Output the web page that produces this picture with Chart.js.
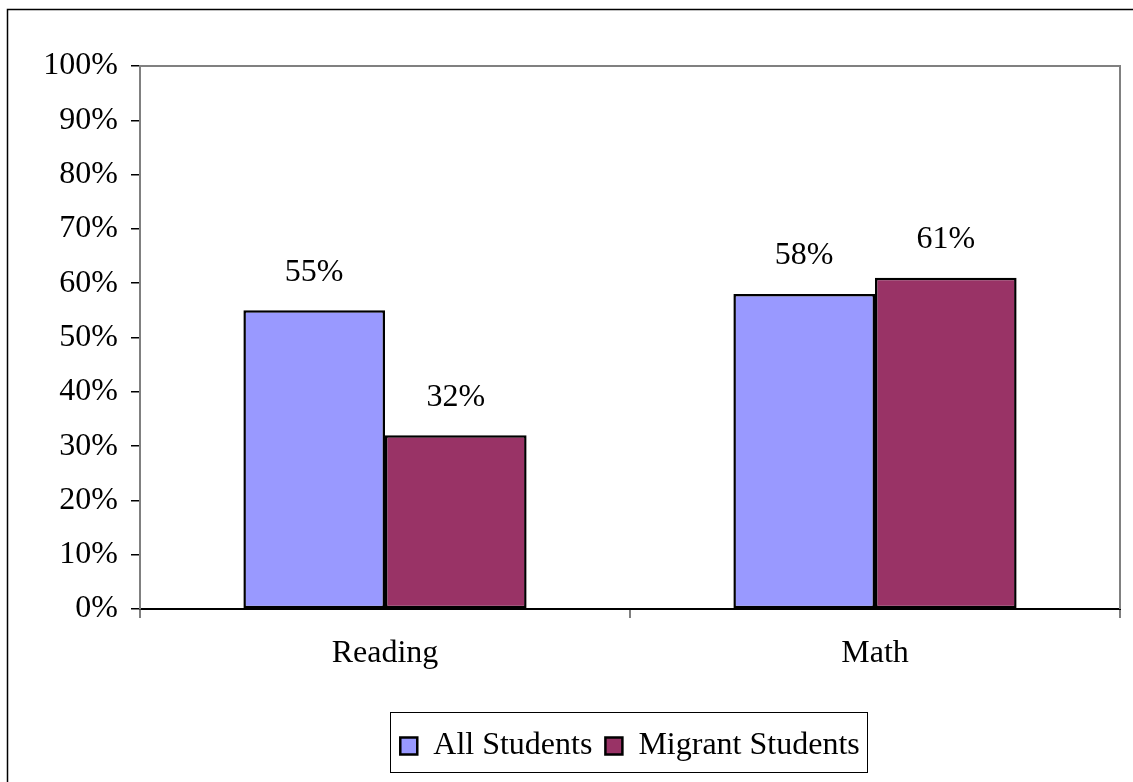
<!DOCTYPE html>
<html>
<head>
<meta charset="utf-8">
<script src="https://cdn.jsdelivr.net/npm/chart.js@4/dist/chart.umd.min.js"></script>
<style>
  html, body { margin: 0; padding: 0; background: #fff; }
  #chart { display: block; }
</style>
</head>
<body>
<canvas id="chart" width="1133" height="782"></canvas>
<script>
const categories = ['Reading', 'Math'];
const allStudents = [55, 58];
const migrantStudents = [32, 61];
const seriesNames = ['All Students', 'Migrant Students'];

const serif = '"Liberation Serif", "Times New Roman", serif';

// labels like "55%" above each bar
const valueLabels = {
  id: 'valueLabels',
  afterDatasetsDraw(chart) {
    const ctx = chart.ctx;
    ctx.save();
    ctx.font = '32px ' + serif;
    ctx.fillStyle = '#000';
    ctx.textAlign = 'center';
    ctx.textBaseline = 'middle';
    chart.data.datasets.forEach((ds, i) => {
      chart.getDatasetMeta(i).data.forEach((bar, j) => {
        ctx.fillText(ds.data[j] + '%', bar.x, bar.y - 38);
      });
    });
    ctx.restore();
  }
};

// plot frame, legend box and outer border
const frame = {
  id: 'frame',
  afterDraw(chart) {
    const ctx = chart.ctx;
    const a = chart.chartArea;
    ctx.save();
    ctx.strokeStyle = '#808080';
    ctx.lineWidth = 2;
    ctx.beginPath();
    ctx.moveTo(a.left, a.top);
    ctx.lineTo(a.right, a.top);
    ctx.lineTo(a.right, a.bottom);
    ctx.stroke();

    const boxes = chart.legend.legendHitBoxes;
    if (boxes && boxes.length) {
      const first = boxes[0];
      const last = boxes[boxes.length - 1];
      const lg = chart.legend;
      ctx.strokeStyle = '#000';
      ctx.lineWidth = 1;
      ctx.strokeRect(Math.round(first.left - 10) + 0.5, Math.round(lg.top - 5) + 0.5,
        Math.round(last.left + last.width - first.left + 18), Math.round(lg.height + 5));
    }

    ctx.strokeStyle = '#000';
    ctx.lineWidth = 1.5;
    ctx.strokeRect(7.5, 9.5, 1140, 790);
    ctx.restore();
  }
};

new Chart(document.getElementById('chart'), {
  type: 'bar',
  data: {
    labels: categories,
    datasets: [
      {
        label: seriesNames[0],
        data: allStudents,
        backgroundColor: '#9999FF',
        borderColor: '#000',
        borderWidth: 2.5,
        borderSkipped: false
      },
      {
        label: seriesNames[1],
        data: migrantStudents,
        backgroundColor: '#993366',
        borderColor: '#000',
        borderWidth: 2.5,
        borderSkipped: false
      }
    ]
  },
  options: {
    responsive: false,
    animation: false,
    devicePixelRatio: 1,
    categoryPercentage: 0.578,
    barPercentage: 1,
    layout: { padding: { left: 0, top: 66, right: 13, bottom: 10 } },
    plugins: {
      tooltip: { enabled: false },
      legend: {
        position: 'bottom',
        fullSize: false,
        labels: {
          color: '#000',
          font: { family: serif, size: 32 },
          boxWidth: 17,
          boxHeight: 17,
          padding: 13
        }
      }
    },
    scales: {
      x: {
        afterFit(scale) { scale.height = 108; },
        grid: {
          display: true,
          drawOnChartArea: false,
          drawTicks: true,
          tickLength: 9,
          color: '#808080',
          lineWidth: 2
        },
        border: { color: '#000', width: 2 },
        ticks: {
          color: '#000',
          font: { family: serif, size: 32 },
          padding: 16
        }
      },
      y: {
        min: 0,
        max: 100,
        afterFit(scale) { scale.width = 140; },
        grid: {
          display: true,
          drawOnChartArea: false,
          drawTicks: true,
          tickLength: 9,
          color: '#000',
          lineWidth: 1.5
        },
        border: { color: '#808080', width: 2 },
        ticks: {
          stepSize: 10,
          color: '#000',
          font: { family: serif, size: 32 },
          padding: 13,
          callback: v => v + '%'
        }
      }
    }
  },
  plugins: [valueLabels, frame]
});
</script>
</body>
</html>
